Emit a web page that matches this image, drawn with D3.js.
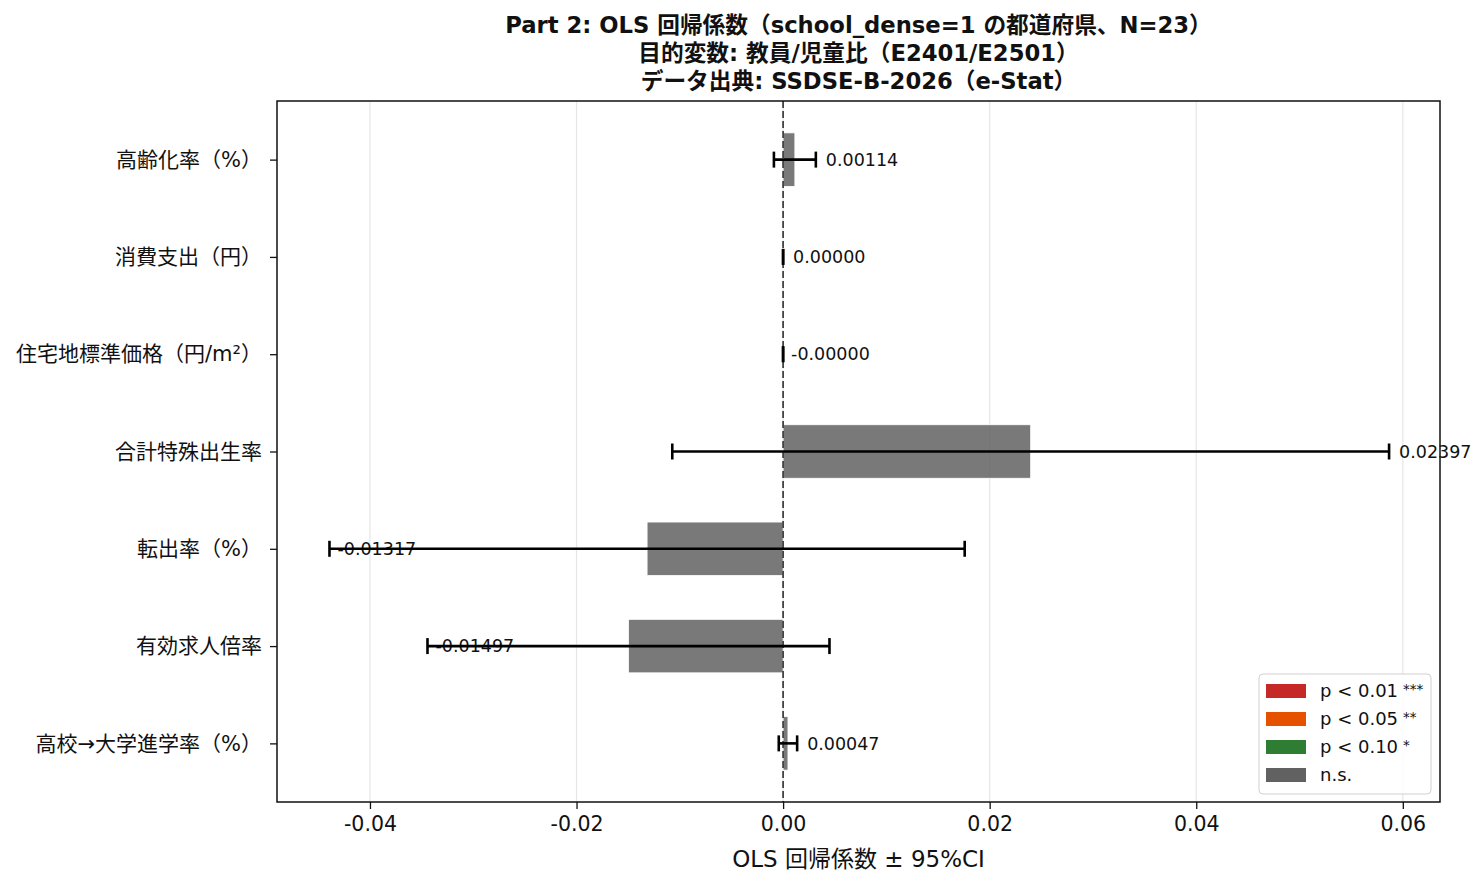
<!DOCTYPE html>
<html>
<head>
<meta charset="utf-8">
<script src="https://cdn.jsdelivr.net/npm/d3@7"></script>
<style>
  body { margin: 0; background: #fff; }
  text { font-family: "DejaVu Sans", "Noto Sans CJK JP", sans-serif; }
</style>
</head>
<body>
<svg id="chart" width="1484" height="884"></svg>
<script>
const categories = [
    "高齢化率（%）",
    "消費支出（円）",
    "住宅地標準価格（円/m²）",
    "合計特殊出生率",
    "転出率（%）",
    "有効求人倍率",
    "高校→大学進学率（%）",
];
const coefs = [0.00114, 0.0000004, -0.0000004, 0.02397, -0.01317, -0.01497, 0.00047];
const ciHalf = [0.00203, 0.0000005, 0.0000005, 0.0347, 0.03075, 0.01946, 0.00089];
const significance = ["n.s.", "n.s.", "n.s.", "n.s.", "n.s.", "n.s.", "n.s."];
const xTicks = [-0.04, -0.02, 0, 0.02, 0.04, 0.06];
const legendLabels = ["p < 0.01", "p < 0.05", "p < 0.10", "n.s."];
const legendStars = ["***", "**", "*", ""];
const legendKeys = ["p01", "p05", "p10", "n.s."];
const titleLines = [
    "Part 2: OLS 回帰係数（school_dense=1 の都道府県、N=23）",
    "目的変数: 教員/児童比（E2401/E2501）",
    "データ出典: SSDSE-B-2026（e-Stat）",
];

const sigColor = {
    p01: "#c62828",
    p05: "#e65100",
    p10: "#2e7d32",
    "n.s.": "#616161",
};

const svg = d3.select("#chart");
const plot = { left: 277, right: 1440, top: 101, bottom: 802 };

const x = d3.scaleLinear().domain([-0.0490, 0.0636]).range([plot.left, plot.right]);
const y = d3.scaleLinear().domain([-0.6025, 6.6025]).range([plot.top, plot.bottom]);
const barH = y(0.275) - y(-0.275);
const capSize = 8;

const data = categories.map((c, i) => ({
    name: c,
    coef: coefs[i],
    lo: coefs[i] - ciHalf[i],
    hi: coefs[i] + ciHalf[i],
    sig: significance[i],
    i,
}));

// Grid
svg.append("g")
    .selectAll("line")
    .data(xTicks)
    .join("line")
    .attr("x1", (d) => x(d))
    .attr("x2", (d) => x(d))
    .attr("y1", plot.top)
    .attr("y2", plot.bottom)
    .attr("stroke", "#e6e6e6")
    .attr("stroke-width", 1.2);

// Bars
svg.append("g")
    .selectAll("rect")
    .data(data)
    .join("rect")
    .attr("x", (d) => Math.min(x(0), x(d.coef)))
    .attr("width", (d) => Math.abs(x(d.coef) - x(0)))
    .attr("y", (d) => y(d.i) - barH / 2)
    .attr("height", barH)
    .attr("fill", (d) => sigColor[d.sig])
    .attr("fill-opacity", 0.85)
    .attr("stroke", "#fff")
    .attr("stroke-width", 0.8);

// Zero line
svg.append("line")
    .attr("x1", x(0))
    .attr("x2", x(0))
    .attr("y1", plot.top)
    .attr("y2", plot.bottom)
    .attr("stroke", "#444")
    .attr("stroke-width", 1.8)
    .attr("stroke-dasharray", "7,3");

// Value labels
svg.append("g")
    .selectAll("text")
    .data(data)
    .join("text")
    .attr("x", (d) => (d.coef >= 0 ? x(d.hi) + 10 : x(d.lo) + 8))
    .attr("y", (d) => y(d.i))
    .attr("dy", "0.35em")
    .attr("font-size", 17.5)
    .attr("fill", "#111")
    .text((d) => d.coef.toFixed(5));

// Error bars
const eb = svg.append("g").attr("stroke", "#000").attr("stroke-width", 2.6);
eb.selectAll("line.ci")
    .data(data)
    .join("line")
    .attr("class", "ci")
    .attr("x1", (d) => x(d.lo))
    .attr("x2", (d) => x(d.hi))
    .attr("y1", (d) => y(d.i))
    .attr("y2", (d) => y(d.i));
eb.selectAll("line.cap")
    .data(data.flatMap((d) => [{ v: d.lo, i: d.i }, { v: d.hi, i: d.i }]))
    .join("line")
    .attr("class", "cap")
    .attr("x1", (d) => x(d.v))
    .attr("x2", (d) => x(d.v))
    .attr("y1", (d) => y(d.i) - capSize)
    .attr("y2", (d) => y(d.i) + capSize);

// Frame
svg.append("rect")
    .attr("x", plot.left)
    .attr("y", plot.top)
    .attr("width", plot.right - plot.left)
    .attr("height", plot.bottom - plot.top)
    .attr("fill", "none")
    .attr("stroke", "#111")
    .attr("stroke-width", 1.5);

// X axis
const xAxis = svg.append("g")
    .attr("transform", `translate(0,${plot.bottom})`)
    .call(d3.axisBottom(x).tickValues(xTicks).tickFormat((d) => d.toFixed(2)).tickSize(7).tickPadding(7));
xAxis.select(".domain").remove();
xAxis.selectAll("line").attr("stroke", "#111").attr("stroke-width", 1.3);
xAxis.selectAll("text").attr("font-size", 20.5).attr("fill", "#111")
    .style("font-family", "'DejaVu Sans', 'Noto Sans CJK JP', sans-serif");

// Y axis
const yAxis = svg.append("g")
    .attr("transform", `translate(${plot.left},0)`)
    .call(d3.axisLeft(y).tickValues(d3.range(categories.length)).tickFormat((i) => categories[i]).tickSize(7).tickPadding(8));
yAxis.select(".domain").remove();
yAxis.selectAll("line").attr("stroke", "#111").attr("stroke-width", 1.3);
yAxis.selectAll("text").attr("font-size", 21).attr("fill", "#111")
    .style("font-family", "'DejaVu Sans', 'Noto Sans CJK JP', sans-serif");

// X label
svg.append("text")
    .attr("x", (plot.left + plot.right) / 2)
    .attr("y", 867)
    .attr("text-anchor", "middle")
    .attr("font-size", 23)
    .attr("fill", "#111")
    .text("OLS 回帰係数 ± 95%CI");

// Title
svg.append("g")
    .selectAll("text")
    .data(titleLines)
    .join("text")
    .attr("x", (plot.left + plot.right) / 2)
    .attr("y", (d, i) => 33 + i * 28)
    .attr("text-anchor", "middle")
    .attr("font-size", 22.7)
    .attr("font-weight", "bold")
    .attr("fill", "#111")
    .text((d) => d);

// Legend
const lg = svg.append("g").attr("transform", "translate(1259,674)");
lg.append("rect")
    .attr("width", 172)
    .attr("height", 120)
    .attr("rx", 4)
    .attr("fill", "#fff")
    .attr("fill-opacity", 0.85)
    .attr("stroke", "#d0d0d0")
    .attr("stroke-width", 1);
const rows = lg.selectAll("g")
    .data(legendKeys)
    .join("g")
    .attr("transform", (d, i) => `translate(7,${17 + i * 28})`);
rows.append("rect")
    .attr("y", -7)
    .attr("width", 40)
    .attr("height", 14)
    .attr("fill", (d) => sigColor[d]);
const lt = rows.append("text")
    .attr("x", 54)
    .attr("dy", "0.35em")
    .attr("font-size", 18)
    .attr("fill", "#111");
lt.append("tspan").text((d, i) => legendLabels[i]);
lt.append("tspan")
    .attr("dx", 5)
    .attr("dy", -3)
    .attr("font-size", 13.5)
    .attr("fill", "#111")
    .text((d, i) => legendStars[i]);
</script>
</body>
</html>
